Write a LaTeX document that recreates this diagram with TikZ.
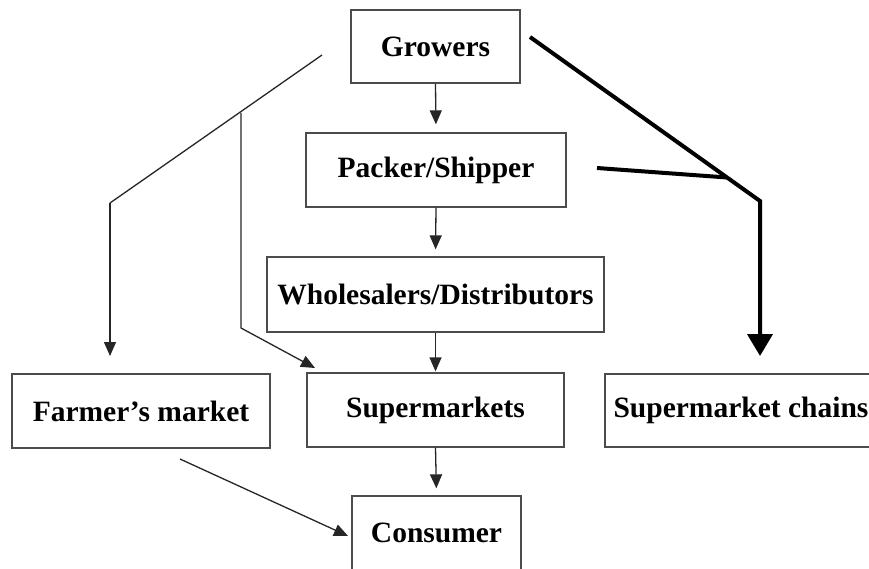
\documentclass[tikz,border=0pt]{standalone}
\usepackage{fontspec}
\setmainfont{Liberation Serif}
\usetikzlibrary{arrows.meta}
\begin{document}
\begin{tikzpicture}[x=1pt,y=-1pt,
  stage/.style={draw=black!70, line width=1.3pt, rectangle, inner sep=0pt,
    font=\fontsize{29.5}{32}\selectfont\bfseries, text=black},
  flow/.style={draw=black!85, line width=1.3pt, -{Triangle[length=14pt,width=12pt]}},
  mainflow/.style={draw=black, line width=4pt, line join=miter, -{Triangle[length=22pt,width=25pt]}},
  mainline/.style={draw=black, line width=4pt}]
\clip (0,0) rectangle (869,569);
\fill[white] (0,0) rectangle (869,569);

% stages of the chain
\node[stage, minimum width=169, minimum height=73] (growers) at (435.5,46.5) {Growers};
\node[stage, minimum width=260, minimum height=74] (packer) at (436,170) {Packer/Shipper};
\node[stage, minimum width=337, minimum height=75] (whole) at (435.5,294.5) {Wholesalers/Distributors};
\node[stage, minimum width=257, minimum height=74] (superm) at (435.5,410) {Supermarkets};
\node[stage, minimum width=258, minimum height=74] (farmer) at (141,411) {Farmer’s market};
\node[stage, minimum width=272, minimum height=73] (chains) at (741,410.5) {Supermarket chains};
\node[stage, minimum width=169, minimum height=74] (consumer) at (436.5,533) {Consumer};

% central chain
\draw[flow, shorten >=8pt] (growers.south) -- (packer.north);
\draw[flow, shorten >=7pt] (packer.south) -- (whole.north);
\draw[flow, shorten >=1pt] (whole.south) -- (superm.north);
\draw[flow, shorten >=7pt] (superm.south) -- (consumer.north);

% direct routes from growers (left)
\coordinate (gl) at (322,55);
\coordinate (bendA) at (110,203);
\coordinate (fork) at (241,113);
\coordinate (bendB) at (241,328);
\coordinate (farmerIn) at (110,356);
\coordinate (supermIn) at (315,368);
\draw[draw=black!85, line width=1.3pt] (gl) -- (bendA);
\draw[flow] (bendA) -- (farmerIn);
\draw[flow] (fork) -- (bendB) -- (supermIn);

% farmer's market to consumer
\coordinate (farmerOut) at (180,459);
\coordinate (consumerIn) at (348,536);
\draw[flow] (farmerOut) -- (consumerIn);

% direct routes to supermarket chains (right)
\coordinate (gr) at (530,37);
\coordinate (bendC) at (760,201);
\coordinate (chainsIn) at (760,356);
\coordinate (pr) at (597,168);
\coordinate (join) at (727,177.5);
\draw[mainflow] (gr) -- (bendC) -- (chainsIn);
\draw[mainline] (pr) -- (join);
\end{tikzpicture}
\end{document}
